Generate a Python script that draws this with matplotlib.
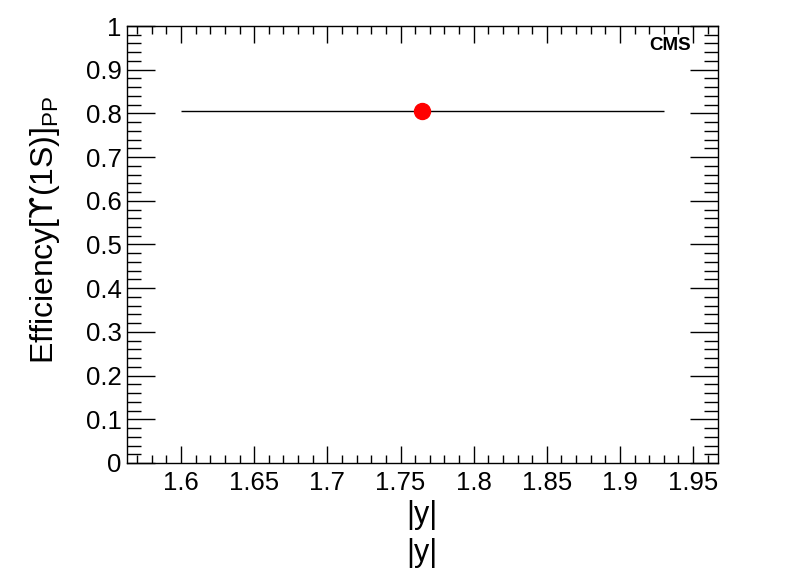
import numpy as np
import matplotlib.pyplot as plt
from matplotlib.ticker import MultipleLocator, FuncFormatter

plt.rcParams['font.family'] = ['Liberation Sans', 'DejaVu Sans']
plt.rcParams['mathtext.fontset'] = 'dejavusans'

# measured point
rap = np.array([1.765])
rap_lo = np.array([1.6])
rap_hi = np.array([1.93])
eff = np.array([0.805])

fig = plt.figure(figsize=(7.98, 5.73), dpi=100)
ax = fig.add_axes([0.1591, 0.192, 0.7406, 0.7626])

ax.errorbar(rap, eff, xerr=[rap - rap_lo, rap_hi - rap], fmt='o', color='red',
            ecolor='black', elinewidth=1.0, capsize=0, markersize=11.5, zorder=3)

ax.set_xlim(1.563, 1.967)
ax.set_ylim(0, 1)

ax.xaxis.set_major_locator(MultipleLocator(0.05))
ax.xaxis.set_minor_locator(MultipleLocator(0.01))
ax.yaxis.set_major_locator(MultipleLocator(0.1))
ax.yaxis.set_minor_locator(MultipleLocator(0.02))

def fmt(v, pos):
    return ('%.2f' % v).rstrip('0').rstrip('.')
ax.xaxis.set_major_formatter(FuncFormatter(fmt))
ax.yaxis.set_major_formatter(FuncFormatter(fmt))

ax.tick_params(which='both', direction='in', top=True, right=True, width=1.0,
               labelsize=18.5, colors='black')
ax.tick_params(axis='x', which='major', length=12, pad=6)
ax.tick_params(axis='x', which='minor', length=6)
ax.tick_params(axis='y', which='major', length=20, pad=4)
ax.tick_params(axis='y', which='minor', length=10)
for sp in ax.spines.values():
    sp.set_linewidth(1.0)

fig.text(45 / 798, 1 - 230 / 573, r'Efficiency[$\mathrm{ϒ}$(1S)]$_{\mathregular{PP}}$',
         fontsize=23, rotation=90, ha='center', va='center')
fig.text(0.529, 1 - 515 / 573, '|y|', fontsize=22, ha='center', va='center')
fig.text(0.529, 1 - 553 / 573, '|y|', fontsize=22, ha='center', va='center')

ax.text(0.955, 0.955, 'CMS', transform=ax.transAxes, fontsize=13.5,
        fontweight='bold', ha='right', va='center')

fig.savefig('out.png', dpi=100)
